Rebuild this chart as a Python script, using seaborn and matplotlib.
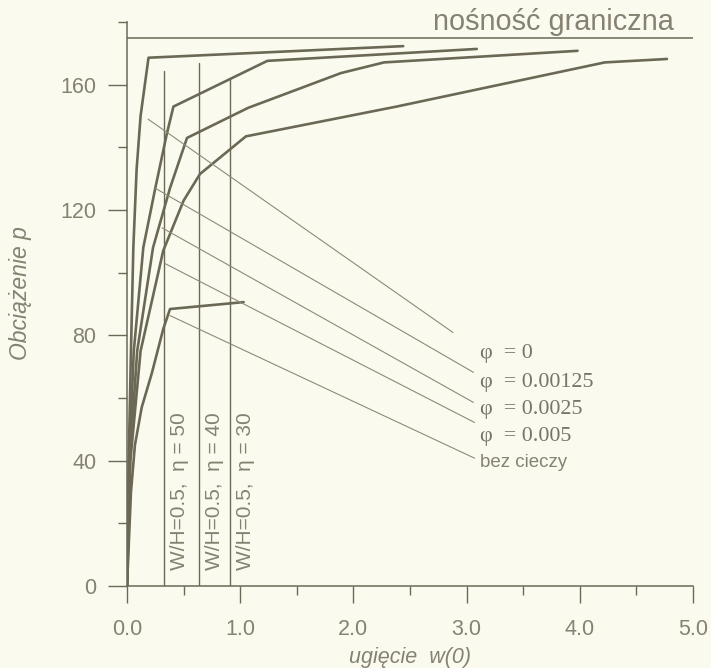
import pandas as pd
import seaborn as sns
import matplotlib.pyplot as plt
from matplotlib.ticker import MultipleLocator, FormatStrFormatter

# -----------------------------
# Data
# -----------------------------
curve_names = ["φ  = 0", "φ  = 0.00125", "φ  = 0.0025", "φ  = 0.005", "bez cieczy"]

w_phi_0 = [0.0, 0.015, 0.035, 0.056, 0.085, 0.12, 0.19, 2.44]
p_phi_0 = [0.0, 40.0, 75.0, 108.0, 133.0, 150.0, 168.6, 172.3]

w_phi_00125 = [0.0, 0.02, 0.06, 0.144, 0.25, 0.35, 0.41, 1.24, 3.09]
p_phi_00125 = [0.0, 40.0, 75.0, 108.0, 127.0, 144.0, 153.0, 167.6, 171.4]

w_phi_0025 = [0.0, 0.025, 0.09, 0.23, 0.38, 0.53, 1.07, 1.89, 2.27, 3.98]
p_phi_0025 = [0.0, 40.0, 75.0, 108.0, 127.0, 143.0, 152.6, 163.7, 167.1, 170.8]

w_phi_005 = [0.0, 0.03, 0.12, 0.32, 0.5, 0.645, 1.05, 2.38, 4.22, 4.77]
p_phi_005 = [0.0, 40.0, 75.0, 107.0, 123.0, 131.5, 143.5, 153.0, 167.1, 168.2]

w_dry = [0.0, 0.035, 0.07, 0.13, 0.22, 0.32, 0.38, 1.03]
p_dry = [0.0, 30.0, 45.0, 57.0, 68.0, 82.0, 88.4, 90.6]

# leader lines from the labels to the curves
lead_w_start = [0.186, 0.247, 0.31, 0.336, 0.38]
lead_p_start = [149.0, 127.0, 114.3, 102.9, 86.3]
lead_w_end = [2.88, 3.06, 3.06, 3.07, 3.07]
lead_p_end = [80.9, 68.2, 58.6, 52.2, 40.8]
label_p = [74.2, 64.9, 56.3, 47.8, 39.5]

# W/H = 0.5 reference lines
eta_values = [50, 40, 30]
eta_w = [0.33, 0.636, 0.91]
eta_top = [164.5, 167.0, 162.0]

p_limit = 175.0  # nośność graniczna

# -----------------------------
# Style
# -----------------------------
bg = "#fbfaef"
ink = "#6b6955"
txt = "#858271"

sns.set_theme(style="ticks", rc={
    "figure.facecolor": bg,
    "axes.facecolor": bg,
    "axes.edgecolor": ink,
    "axes.linewidth": 1.1,
    "xtick.color": ink,
    "ytick.color": ink,
    "xtick.labelcolor": txt,
    "ytick.labelcolor": txt,
})
plt.rcParams["font.family"] = ["Liberation Sans", "DejaVu Sans"]

fig = plt.figure(figsize=(7.11, 6.68), dpi=100)
ax = fig.add_axes([127 / 711, 1 - 586 / 668, 566 / 711, 564 / 668])

# -----------------------------
# Curves
# -----------------------------
curves = [
    (w_phi_0, p_phi_0),
    (w_phi_00125, p_phi_00125),
    (w_phi_0025, p_phi_0025),
    (w_phi_005, p_phi_005),
    (w_dry, p_dry),
]
frames = []
for name, (w, p) in zip(curve_names, curves):
    frames.append(pd.DataFrame({"w": w, "p": p, "curve": name}))
df = pd.concat(frames, ignore_index=True)

for name in curve_names:
    sub = df[df["curve"] == name]
    sns.lineplot(data=sub, x="w", y="p", sort=False, estimator=None,
                 color=ink, lw=1.9, ax=ax)

# limit load line
sns.lineplot(x=[0.0, 5.0], y=[p_limit, p_limit], color=ink, lw=1.1,
             sort=False, estimator=None, ax=ax)
ax.text(2.70, 175.6, "nośność graniczna", fontsize=20.8, color=txt,
        ha="left", va="bottom")

# vertical W/H lines
for eta, w, top in zip(eta_values, eta_w, eta_top):
    sns.lineplot(x=[w, w], y=[0.0, top], color=ink, lw=1.0,
                 sort=False, estimator=None, ax=ax)
    ax.text(w + 0.135, 5.0, f"W/H=0.5,  η = {eta}", rotation=90,
            fontsize=15, color=txt, ha="center", va="bottom")

# leader lines + labels
for i, name in enumerate(curve_names):
    sns.lineplot(x=[lead_w_start[i], lead_w_end[i]],
                 y=[lead_p_start[i], lead_p_end[i]],
                 color="#8c8a78", lw=0.8, sort=False, estimator=None, ax=ax)
    if name == "bez cieczy":
        ax.text(3.12, label_p[i], name, fontsize=13.5, color=txt,
                ha="left", va="center")
    else:
        ax.text(3.12, label_p[i], name, fontsize=15.8, color="#77746a",
                ha="left", va="center", family=["Liberation Serif", "DejaVu Serif"])

# -----------------------------
# Axes
# -----------------------------
ax.set_xlim(0, 5)
ax.set_ylim(0, 180)
ax.xaxis.set_major_locator(MultipleLocator(1.0))
ax.xaxis.set_minor_locator(MultipleLocator(0.5))
ax.yaxis.set_major_locator(MultipleLocator(40))
ax.yaxis.set_minor_locator(MultipleLocator(20))
ax.xaxis.set_major_formatter(FormatStrFormatter("%.1f"))
ax.tick_params(axis="both", which="major", direction="out", width=1.0, labelsize=15.5)
ax.tick_params(axis="y", which="major", length=14, pad=8)
ax.tick_params(axis="x", which="major", length=12, pad=12)
ax.tick_params(axis="both", which="minor", direction="out", width=1.0, length=6.5)
ax.spines["top"].set_visible(False)
ax.spines["right"].set_visible(False)

ax.set_xlabel("ugięcie  w(0)", fontsize=15.5, color=txt, style="italic")
ax.set_ylabel("Obciążenie p", fontsize=16.5, color=txt, style="italic")
ax.xaxis.set_label_coords(0.5, -0.108)
ax.yaxis.set_label_coords(-0.168, 0.52)

fig.savefig("out.png", dpi=100, facecolor=bg)
